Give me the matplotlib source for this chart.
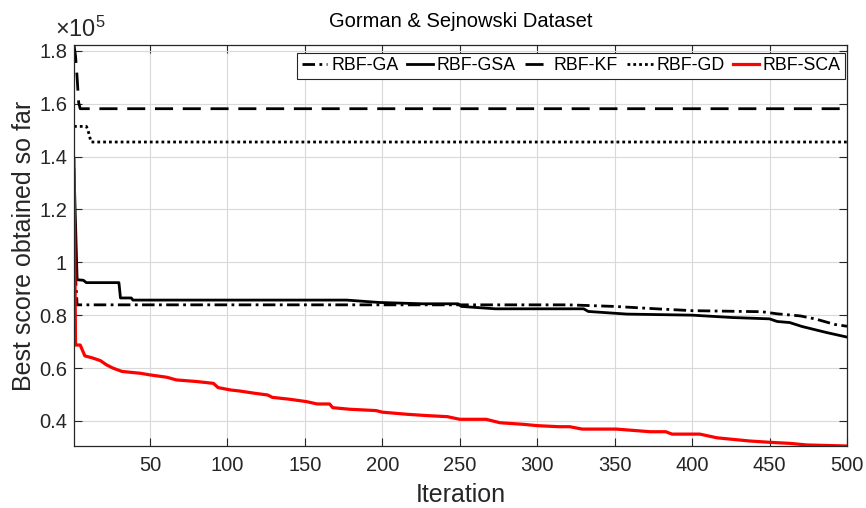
import matplotlib
matplotlib.use('Agg')
import matplotlib.pyplot as plt
from matplotlib.ticker import FuncFormatter

plt.rcParams['font.family'] = ['Liberation Sans', 'DejaVu Sans']
plt.rcParams['mathtext.fontset'] = 'custom'
plt.rcParams['mathtext.rm'] = 'Liberation Sans'
plt.rcParams['mathtext.it'] = 'Liberation Sans:italic'

# convergence curves (iteration, best score)
ga_it = [1, 3, 320, 350, 380, 400, 445, 455, 470, 480, 492, 500]
ga_val = [105000, 83900, 83900, 83300, 82300, 81700, 81300, 80500, 79700, 78500, 76500, 75800]

gsa_it = [1, 3, 7, 9, 30, 31, 38, 39, 177, 198, 226, 249, 251, 273, 330, 333, 358,
          400, 426, 450, 455, 463, 471, 487, 500]
gsa_val = [135000, 93400, 93200, 92300, 92300, 86500, 86500, 85700, 85700, 84800, 84300,
           84300, 83300, 82400, 82400, 81400, 80400, 80000, 79100, 78600, 77600, 77200,
           75700, 73400, 71700]

kf_it = [1, 2, 3, 4, 5, 500]
kf_val = [182200, 178000, 170000, 160500, 158100, 158100]

gd_it = [1, 9, 10, 12, 500]
gd_val = [151400, 151400, 150000, 145500, 145500]

sca_it = [1, 2, 5, 8, 13, 18, 22, 26, 32, 44, 50, 61, 67, 80, 91, 94, 102, 108, 117, 126,
          129, 140, 151, 158, 166, 168, 179, 196, 200, 216, 229, 242, 250, 267, 276, 291,
          300, 314, 321, 329, 351, 373, 383, 387, 405, 416, 437, 450, 463, 474, 500]
sca_val = [138800, 68700, 68700, 64600, 63800, 62800, 61200, 60000, 58700, 58000, 57400,
           56500, 55500, 54900, 54200, 52600, 51700, 51300, 50500, 49800, 48900, 48200,
           47300, 46400, 46400, 45000, 44400, 43900, 43300, 42500, 42000, 41600, 40600,
           40600, 39300, 38700, 38200, 37800, 37800, 36900, 36900, 35900, 35900, 35000,
           35000, 33600, 32400, 31900, 31500, 30900, 30500]

xticks = list(range(50, 501, 50))
yticks = [40000, 60000, 80000, 100000, 120000, 140000, 160000, 180000]

dark = '#262626'

fig = plt.figure(figsize=(8.66, 5.08), dpi=100)
ax = fig.add_axes([74 / 866, 1 - 446 / 508, (847 - 74) / 866, (446 - 45) / 508])

ax.plot(ga_it, ga_val, color='k', lw=2, ls=(0, (4.5, 1.6, 1, 1.6)), label='RBF-GA')
ax.plot(gsa_it, gsa_val, color='k', lw=2, ls='-', label='RBF-GSA')
ax.plot(kf_it, kf_val, color='k', lw=2, ls=(0, (6.5, 3.5)), label='RBF-KF')
ax.plot(gd_it, gd_val, color='k', lw=2, ls=(0, (1, 1.1)), label='RBF-GD')
ax.plot(sca_it, sca_val, color='red', lw=2.3, ls='-', label='RBF-SCA')

ax.set_xlim(1, 500)
ax.set_ylim(30500, 182200)
ax.set_xticks(xticks)
ax.set_yticks(yticks)
ax.yaxis.set_major_formatter(FuncFormatter(lambda v, p: '{:g}'.format(round(v / 1e5, 2))))
ax.grid(True, color='#d9d9d9', lw=0.8)
ax.set_axisbelow(True)
ax.tick_params(direction='in', length=6, width=0.8, top=True, right=True,
               labelsize=14.5, colors=dark)
ax.tick_params(axis='x', pad=7)
ax.tick_params(axis='y', pad=5)
for sp in ax.spines.values():
    sp.set_color(dark)
    sp.set_linewidth(0.9)

ax.set_xlabel('Iteration', fontsize=18, color=dark, labelpad=6)
ax.set_ylabel('Best score obtained so far', fontsize=18, color=dark, labelpad=2)
ax.set_title('Gorman & Sejnowski Dataset', fontsize=14.5, color='k', pad=13)
fig.text(55 / 866, 1 - 37 / 508, r'$\times10^{5}$', fontsize=17, color=dark, va='baseline')

leg = ax.legend(loc='upper right', bbox_to_anchor=(1.0, 0.985), ncol=5, fontsize=12.8,
                handlelength=1.45, handletextpad=0.2, columnspacing=0.5,
                borderpad=0.25, fancybox=False, framealpha=1, edgecolor=dark,
                borderaxespad=0.1)
leg.get_frame().set_linewidth(0.8)

plt.savefig('out.png', dpi=100)
